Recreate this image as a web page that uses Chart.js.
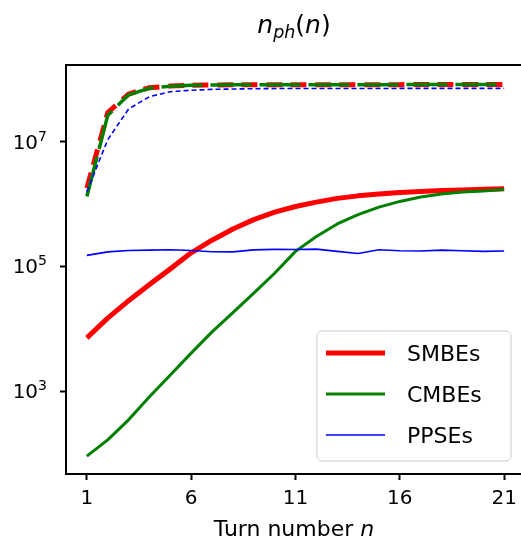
<!DOCTYPE html>
<html>
<head>
<meta charset="utf-8">
<script src="https://cdn.jsdelivr.net/npm/chart.js@4.4.1/dist/chart.umd.min.js"></script>
<style>
  html, body { margin:0; padding:0; background:#fff; overflow:hidden; }
  #wrap { position:relative; width:530px; height:539px; }
</style>
</head>
<body>
<div id="wrap"><canvas id="chart" width="530" height="539"></canvas></div>
<script>
/* ---------- data ---------- */
const turns = [1,2,3,4,5,6,7,8,9,10,11,12,13,14,15,16,17,18,19,20,21];
const seriesNames = ["SMBEs","CMBEs","PPSEs"];

// solid lines
const smbes = [7130,14800,28200,51300,91200,165000,263000,398000,562000,741000,912000,
               1070000,1230000,1350000,1450000,1530000,1580000,1640000,1680000,1720000,1760000];
const cmbes = [91,166,347,813,1820,4070,8910,18200,37200,77600,174000,
               302000,479000,676000,891000,1100000,1290000,1450000,1550000,1620000,1700000];
const ppses = [150000,171000,180000,182000,185000,180000,172000,171000,184000,187000,186000,
               189000,174000,161000,185000,178000,176000,182000,178000,174000,176000];

// dashed lines
const smbesTotal = [1800000,29100000,57900000,73100000,77800000,80200000,80900000,81300000,81500000,81700000,81700000,
                    81800000,81800000,81900000,81900000,81900000,82000000,82000000,82000000,82000000,82000000];
const cmbesTotal = [1320000,26300000,56200000,71800000,77300000,79800000,80700000,81300000,81500000,81700000,81700000,
                    81800000,81800000,81900000,81900000,81900000,82000000,82000000,82000000,82000000,82000000];
const ppsesTotal = [1580000,10700000,33300000,52500000,63100000,66700000,68700000,69700000,70500000,70800000,70900000,
                    71000000,71000000,71100000,71100000,71200000,71200000,71200000,71300000,71300000,71300000];

const xTicks = [1,6,11,16,21];
const yTicks = [1e3,1e5,1e7];
const yTickExp = ["3","5","7"];

const COLORS = { red:"#ff0000", green:"#008000", blue:"#0000ff" };
const FONT = "'DejaVu Sans', sans-serif";

/* ---------- helpers ---------- */
function drawParts(g, parts, cx, baseline, align){
  let total = 0;
  parts.forEach(p => { g.font = p.font; p.w = g.measureText(p.t).width; total += p.w; });
  let x = align === "right" ? cx - total : cx - total/2;
  g.textAlign = "left";
  g.textBaseline = "alphabetic";
  parts.forEach(p => {
    g.font = p.font;
    g.fillText(p.t, x, baseline + (p.dy || 0));
    x += p.w;
  });
}

/* ---------- plugins ---------- */
const frame = {
  id:"frame",
  afterDatasetsDraw(c){
    const a = c.chartArea, g = c.ctx;
    g.save();
    g.strokeStyle = "#000";
    g.lineWidth = 2;
    g.strokeRect(a.left, a.top, a.right - a.left, a.bottom - a.top);
    g.restore();
  }
};

// tick labels drawn by hand so 10^k gets a raised exponent, like mathtext
const tickLabels = {
  id:"tickLabels",
  afterDraw(c){
    const g = c.ctx, sy = c.scales.y, sx = c.scales.x;
    g.save();
    g.fillStyle = "#000";
    yTicks.forEach((v, i) => {
      const y = sy.getPixelForValue(v);
      drawParts(g, [
        { t:"10", font:`20px ${FONT}` },
        { t:yTickExp[i], font:`14px ${FONT}`, dy:-8 }
      ], 47, y + 7, "right");
    });
    xTicks.forEach(v => {
      drawParts(g, [{ t:String(v), font:`20px ${FONT}` }], sx.getPixelForValue(v), 504);
    });
    g.restore();
  }
};

const texts = {
  id:"texts",
  afterDraw(c){
    const g = c.ctx;
    g.save();
    g.fillStyle = "#000";
    const it = s => `italic ${s}px ${FONT}`, up = s => `${s}px ${FONT}`;
    drawParts(g, [
      { t:"n",  font:it(25) },
      { t:"ph", font:it(17.5), dy:5 },
      { t:"(",  font:up(25) },
      { t:"n",  font:it(25) },
      { t:")",  font:up(25) }
    ], 294, 33);
    drawParts(g, [
      { t:"Turn number ", font:up(22) },
      { t:"n", font:it(22) }
    ], 294, 536);
    g.restore();
  }
};

const legendBox = {
  id:"legendBox",
  afterDraw(c){
    const g = c.ctx;
    const x0 = 317, y0 = 331, w = 194, h = 130;
    g.save();
    g.beginPath();
    g.roundRect(x0, y0, w, h, 5);
    g.fillStyle = "rgba(255,255,255,0.8)";
    g.fill();
    g.strokeStyle = "#cccccc";
    g.lineWidth = 1;
    g.stroke();
    const styles = [
      { color:COLORS.red,   lw:5 },
      { color:COLORS.green, lw:3 },
      { color:COLORS.blue,  lw:1.6 }
    ];
    const rows = [353, 394, 435];
    seriesNames.forEach((name, i) => {
      const y = rows[i];
      g.beginPath();
      g.moveTo(326, y); g.lineTo(385, y);
      g.strokeStyle = styles[i].color;
      g.lineWidth = styles[i].lw;
      g.lineCap = "butt";
      g.stroke();
      g.fillStyle = "#000";
      g.font = `22px ${FONT}`;
      g.textAlign = "left";
      g.textBaseline = "alphabetic";
      g.fillText(name, 407, y + 8);
    });
    g.restore();
  }
};

/* ---------- chart ---------- */
const pts = arr => arr.map((v, i) => ({ x: turns[i], y: v }));

function line(label, data, color, width, dash, order){
  return {
    label, data: pts(data),
    borderColor: color, backgroundColor: color,
    borderWidth: width, borderDash: dash || [],
    pointRadius: 0, tension: 0, fill: false,
    borderCapStyle: "butt", borderJoinStyle: "round",
    order
  };
}

new Chart(document.getElementById("chart"), {
  type: "line",
  data: {
    datasets: [
      line("SMBEs", smbes, COLORS.red, 5, null, 6),
      line("SMBEs total", smbesTotal, COLORS.red, 5, [16, 8, 16, 9], 5),
      line("CMBEs", cmbes, COLORS.green, 3, null, 4),
      line("CMBEs total", cmbesTotal, COLORS.green, 3.5, [41, 8], 3),
      line("PPSEs", ppses, COLORS.blue, 1.6, null, 2),
      line("PPSEs total", ppsesTotal, COLORS.blue, 1.6, [5, 3], 1)
    ]
  },
  options: {
    responsive: false,
    animation: false,
    layout: { padding: { top: 65, right: 5, left: 0, bottom: 0 } },
    plugins: { legend: { display: false }, tooltip: { enabled: false }, title: { display: false } },
    scales: {
      x: {
        type: "linear", min: 0, max: 22, bounds: "data",
        afterBuildTicks: ax => { ax.ticks = xTicks.map(v => ({ value: v })); },
        afterFit: ax => { ax.height = 65; },
        border: { display: false },
        grid: { drawOnChartArea: false, drawTicks: true, tickLength: 6, tickWidth: 2, tickColor: "#000", color: "#000" },
        ticks: { autoSkip: false, maxRotation: 0, color: "#000", callback: () => "" }
      },
      y: {
        type: "logarithmic", min: 47, max: 1.69e8, bounds: "data",
        afterBuildTicks: ax => { ax.ticks = yTicks.map(v => ({ value: v })); },
        afterFit: ax => { ax.width = 66; },
        border: { display: false },
        grid: { drawOnChartArea: false, drawTicks: true, tickLength: 6, tickWidth: 2, tickColor: "#000", color: "#000" },
        ticks: { autoSkip: false, color: "#000", callback: () => "" }
      }
    }
  },
  plugins: [frame, tickLabels, texts, legendBox]
});
</script>
</body>
</html>
